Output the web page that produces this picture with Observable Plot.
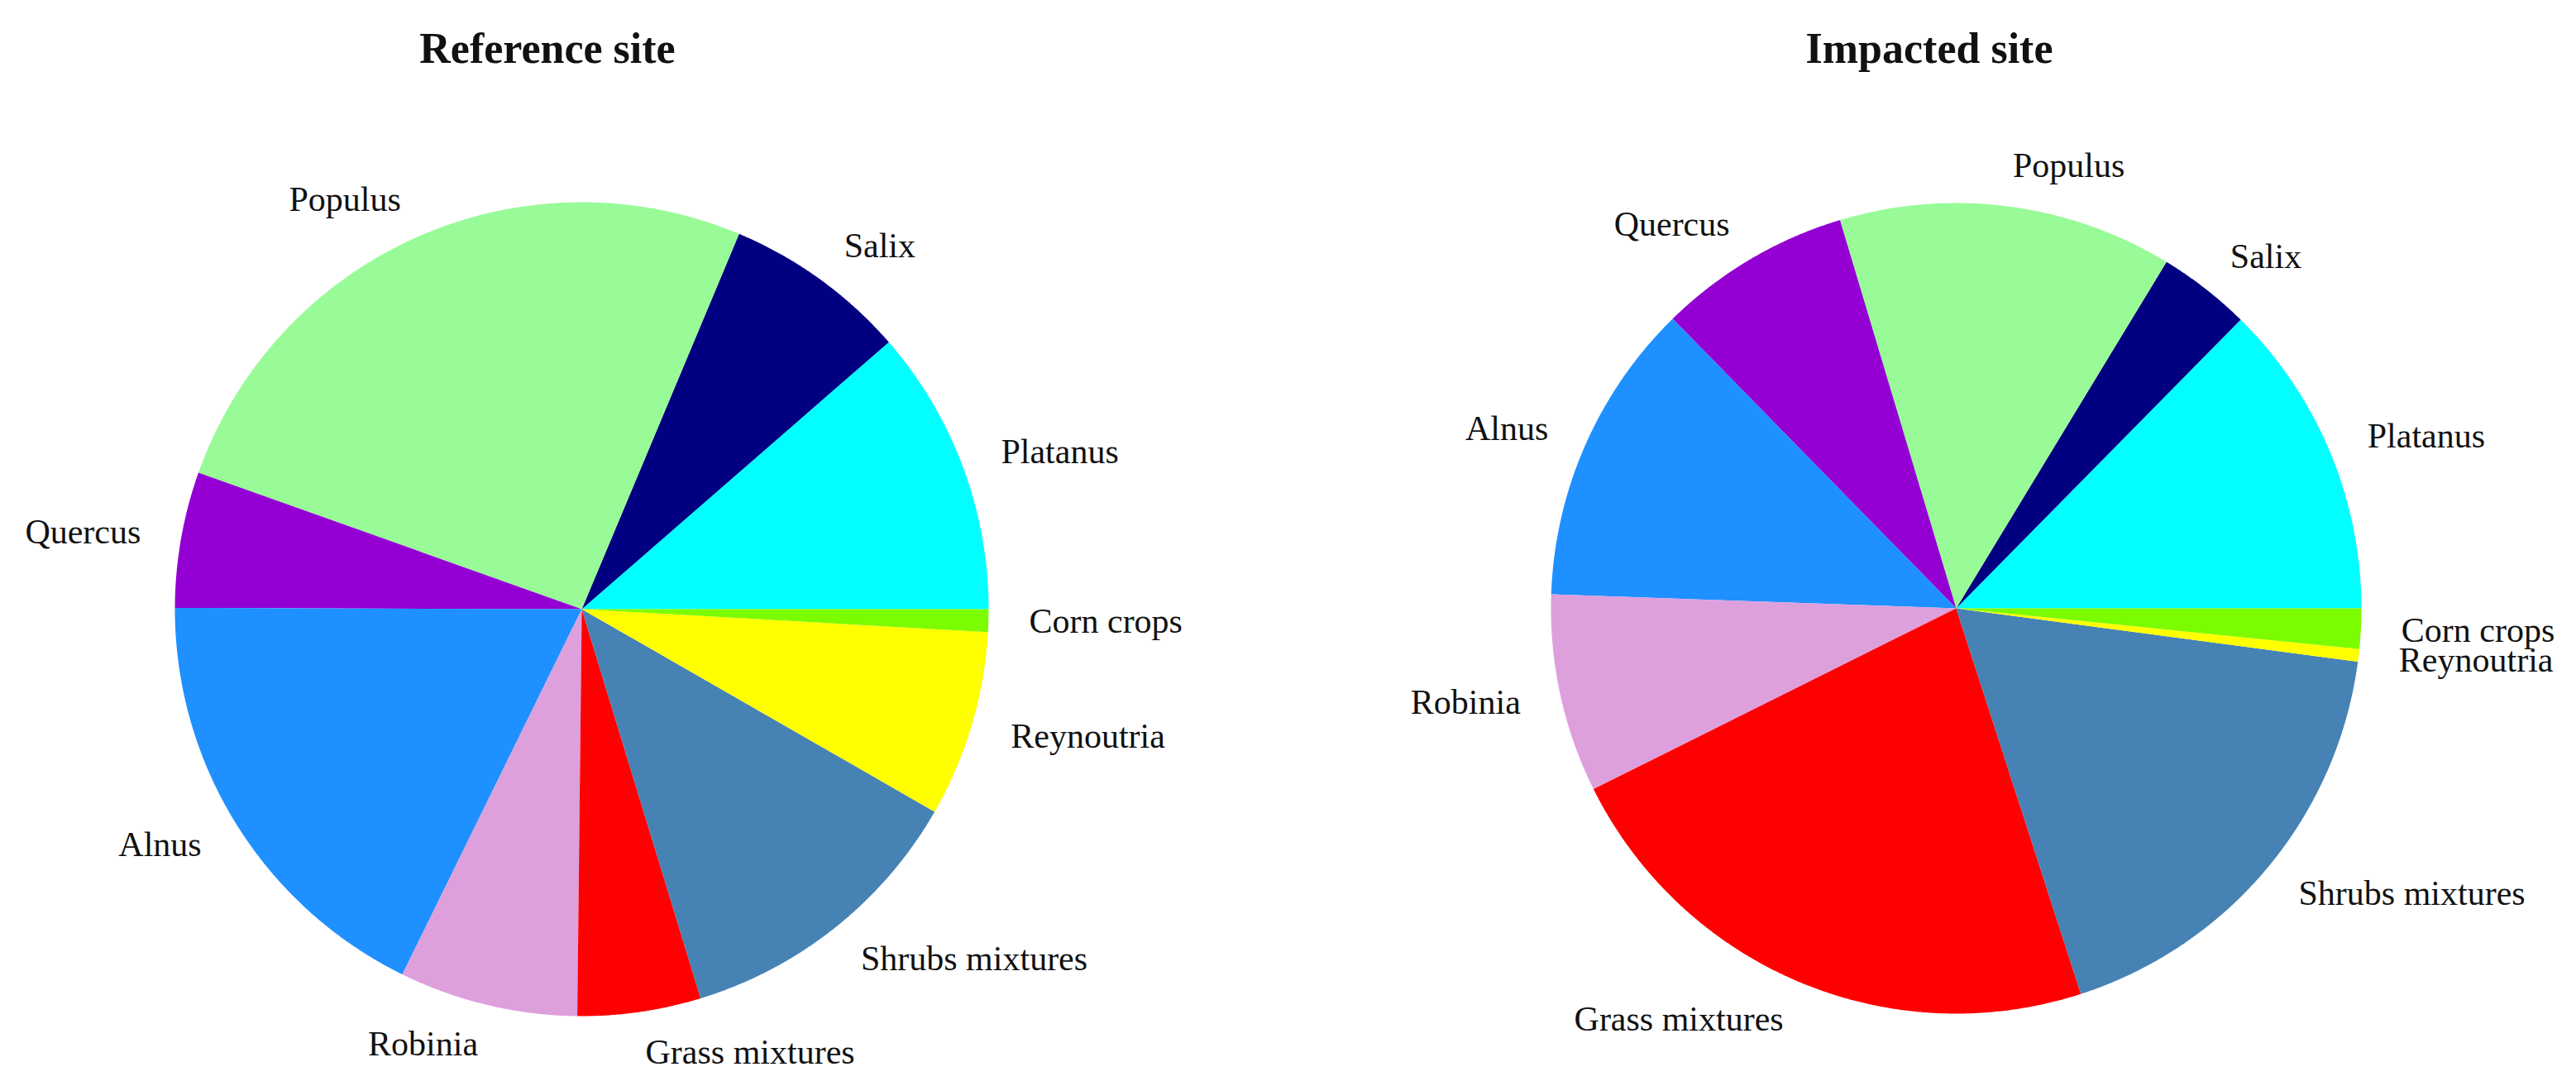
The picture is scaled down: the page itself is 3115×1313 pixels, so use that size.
<!DOCTYPE html>
<html><head><meta charset="utf-8">
<script src="https://cdn.jsdelivr.net/npm/d3@7"></script>
<script src="https://cdn.jsdelivr.net/npm/@observablehq/plot@0.6"></script>
<style>
html,body{margin:0;padding:0;background:#fff;}
#wrap{position:relative;width:3115px;height:1313px;overflow:hidden;}
.title{position:absolute;font-family:"Liberation Serif",serif;font-weight:bold;font-size:52px;line-height:52px;white-space:nowrap;transform:translateX(-50%);color:#111;}
#chart{position:absolute;left:0;top:110px;}
</style></head><body>
<div id="wrap">
<div class="title" id="t1" style="left:662px;top:33px"></div>
<div class="title" id="t2" style="left:2333px;top:33px"></div>
<div id="chart"></div>
</div>
<script>
// ---- data (percent of cover) ----
const categories = ["Platanus","Salix","Populus","Quercus","Alnus","Robinia","Grass mixtures","Shrubs mixtures","Reynoutria","Corn crops"];
const sliceColors = ["#00FFFF","#000080","#98FB98","#9400D3","#1E90FF","#DDA0DD","#FF0000","#4682B4","#FFFF00","#7CFC00"];
const referenceSite = [11.4, 7.3, 25.9, 5.4, 17.8, 7.1, 4.9, 12.0, 7.4, 0.9];
const impactedSite  = [12.6, 3.7, 13.3, 7.7, 12.1, 7.9, 22.6, 17.9, 0.5, 1.6];
const siteTitles = ["Reference site","Impacted site"];

document.getElementById("t1").textContent = siteTitles[0];
document.getElementById("t2").textContent = siteTitles[1];

// ---- layout ----
const W = 3115, H = 1203;
const pies = [
  {site: siteTitles[0], values: referenceSite, cx: 703, cy: 626, r: 492},
  {site: siteTitles[1], values: impactedSite,  cx: 2365, cy: 625, r: 490}
];

const polyPts = [], labels = [];
for (const p of pies) {
  const total = d3.sum(p.values);
  let a = 0;
  p.values.forEach((v, i) => {
    const a0 = a, a1 = a + v / total * 2 * Math.PI; a = a1;
    const key = p.site + "|" + categories[i];
    const n = Math.max(2, Math.ceil((a1 - a0) / (Math.PI / 720)));
    polyPts.push({x: p.cx, y: p.cy, key, name: categories[i]});
    for (let k = 0; k <= n; k++) {
      const t = a0 + (a1 - a0) * k / n;
      polyPts.push({x: p.cx + p.r * Math.cos(t), y: p.cy - p.r * Math.sin(t), key, name: categories[i]});
    }
    const m = (a0 + a1) / 2;
    labels.push({
      x: p.cx + 1.1 * p.r * Math.cos(m),
      y: p.cy - 1.1 * p.r * Math.sin(m),
      text: categories[i],
      side: Math.cos(m) >= 0 ? "start" : "end"
    });
  });
}

const textStyle = {x: "x", y: "y", text: "text", fontSize: 42, fontFamily: "Liberation Serif", fill: "#111", lineAnchor: "middle"};

const chart = Plot.plot({
  width: W, height: H,
  margin: 0,
  style: {background: "#fff"},
  x: {domain: [0, W], range: [0, W], axis: null},
  y: {domain: [0, H], range: [0, H], axis: null},
  color: {type: "ordinal", domain: categories, range: sliceColors},
  marks: [
    Plot.line(polyPts, {x: "x", y: "y", z: "key", fill: "name", stroke: "none", curve: "linear-closed"}),
    Plot.text(labels.filter(d => d.side === "start"), {...textStyle, textAnchor: "start"}),
    Plot.text(labels.filter(d => d.side === "end"), {...textStyle, textAnchor: "end"})
  ]
});
document.getElementById("chart").appendChild(chart);
</script>
</body></html>
